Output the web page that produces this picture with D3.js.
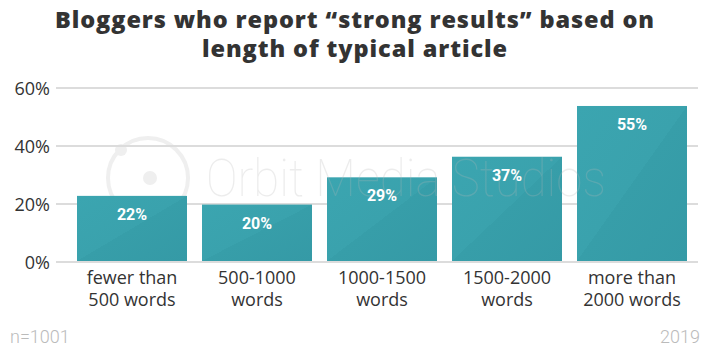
<!DOCTYPE html>
<html><head><meta charset="utf-8">
<script src="https://cdn.jsdelivr.net/npm/d3@7"></script>
<style>body{margin:0;background:#fff}</style>
</head><body>
<svg id="c" width="710" height="355"></svg>
<script>
const categories = [["fewer than","500 words"],["500-1000","words"],["1000-1500","words"],["1500-2000","words"],["more than","2000 words"]];
const values = [22.8, 19.8, 29.2, 36.3, 53.8];
const valueLabels = ["22%","20%","29%","37%","55%"];
const yTicks = [0, 20, 40, 60];
const titleLines = ["Bloggers who report \u201cstrong results\u201d based on","length of typical article"];

const svg = d3.select("#c");
const keys = categories.map(c => c.join(" "));
const x = d3.scaleBand().domain(keys).range([69.5, 694.5]).paddingInner(0.12).paddingOuter(0.06);
const y = d3.scaleLinear().domain([0, 60]).range([262, 88]);

const defs = svg.append("defs");
const g = defs.append("linearGradient").attr("id","bg").attr("x1","0").attr("y1","0").attr("x2","1").attr("y2","1");
g.append("stop").attr("offset","0").attr("stop-color","#3ba5b0");
g.append("stop").attr("offset","0.5").attr("stop-color","#3aa2ad");
g.append("stop").attr("offset","0.5").attr("stop-color","#379ea9");
g.append("stop").attr("offset","1").attr("stop-color","#359aa6");

// watermark logo (behind)
const wm = svg.append("g");
const wmc = "#efefef";
wm.append("circle").attr("cx",148).attr("cy",178).attr("r",40).attr("fill","none").attr("stroke",wmc).attr("stroke-width",4);
wm.append("circle").attr("cx",150).attr("cy",178).attr("r",7).attr("fill",wmc);
wm.append("circle").attr("cx",121).attr("cy",150).attr("r",6).attr("fill",wmc);

// title
const tt = svg.append("g").selectAll("text").data(titleLines).join("text")
  .attr("x", 355).attr("y", (d,i) => 28 + i*29)
  .attr("text-anchor","middle").attr("font-family","'Open Sans', sans-serif")
  .attr("font-weight", 800).attr("font-size", 23.5).attr("fill","#333").text(d => d);
const n0 = tt.node();
const extra = (600 - n0.getComputedTextLength()) / titleLines[0].length;
tt.attr("letter-spacing", Math.max(0, extra));

// grid
const yAxis = d3.axisLeft(y).tickValues(yTicks).tickFormat(d => d + "%").tickSize(0).tickPadding(6);
const ga = svg.append("g").attr("transform","translate(56,0)").call(yAxis);
ga.select(".domain").remove();
ga.selectAll("text").attr("font-family","'Open Sans', sans-serif").attr("font-size",18).attr("font-weight",500).attr("fill","#333").attr("dy","0.35em");
svg.append("g").selectAll("line").data(yTicks).join("line")
  .attr("x1",56).attr("x2",698).attr("y1",d=>y(d)).attr("y2",d=>y(d))
  .attr("stroke","#dcdcdc").attr("stroke-width",2);

// bars
svg.append("g").selectAll("rect").data(values).join("rect")
  .attr("x",(d,i)=>x(keys[i])).attr("width",x.bandwidth())
  .attr("y",d=>y(d)).attr("height",d=>y(0)-y(d)-1)
  .attr("fill","url(#bg)");

// watermark text (faint, over bars)
svg.append("text").attr("x",206).attr("y",196).attr("font-family","Roboto, sans-serif").attr("font-weight",100)
  .attr("font-size",52).attr("textLength",400).attr("lengthAdjust","spacingAndGlyphs")
  .attr("fill","#b8b8b8").attr("opacity",0.25).text("Orbit Media Studios");

// value labels
svg.append("g").selectAll("text").data(values).join("text")
  .attr("x",(d,i)=>x(keys[i])+x.bandwidth()/2).attr("y",d=>y(d)+24)
  .attr("text-anchor","middle").attr("font-family","Roboto, sans-serif").attr("font-weight",700)
  .attr("font-size",16).attr("fill","#fff").text((d,i)=>valueLabels[i]);

// category labels
const cl = svg.append("g").selectAll("text").data(categories).join("text")
  .attr("text-anchor","middle").attr("font-family","'Open Sans', sans-serif").attr("font-size",18).attr("fill","#333");
cl.each(function(d,i){
  const t = d3.select(this);
  d.forEach((line,j)=>t.append("tspan").attr("x",x(keys[i])+x.bandwidth()/2).attr("y",284+j*22).text(line));
});

// footer
svg.append("text").attr("x",10).attr("y",343).attr("font-family","Roboto, sans-serif").attr("font-weight",300)
  .attr("font-size",18).attr("fill","#bbb").text("n=1001");
svg.append("text").attr("x",700).attr("y",343).attr("text-anchor","end").attr("font-family","Roboto, sans-serif").attr("font-weight",300)
  .attr("font-size",18).attr("fill","#bbb").text("2019");
</script>
</body></html>
